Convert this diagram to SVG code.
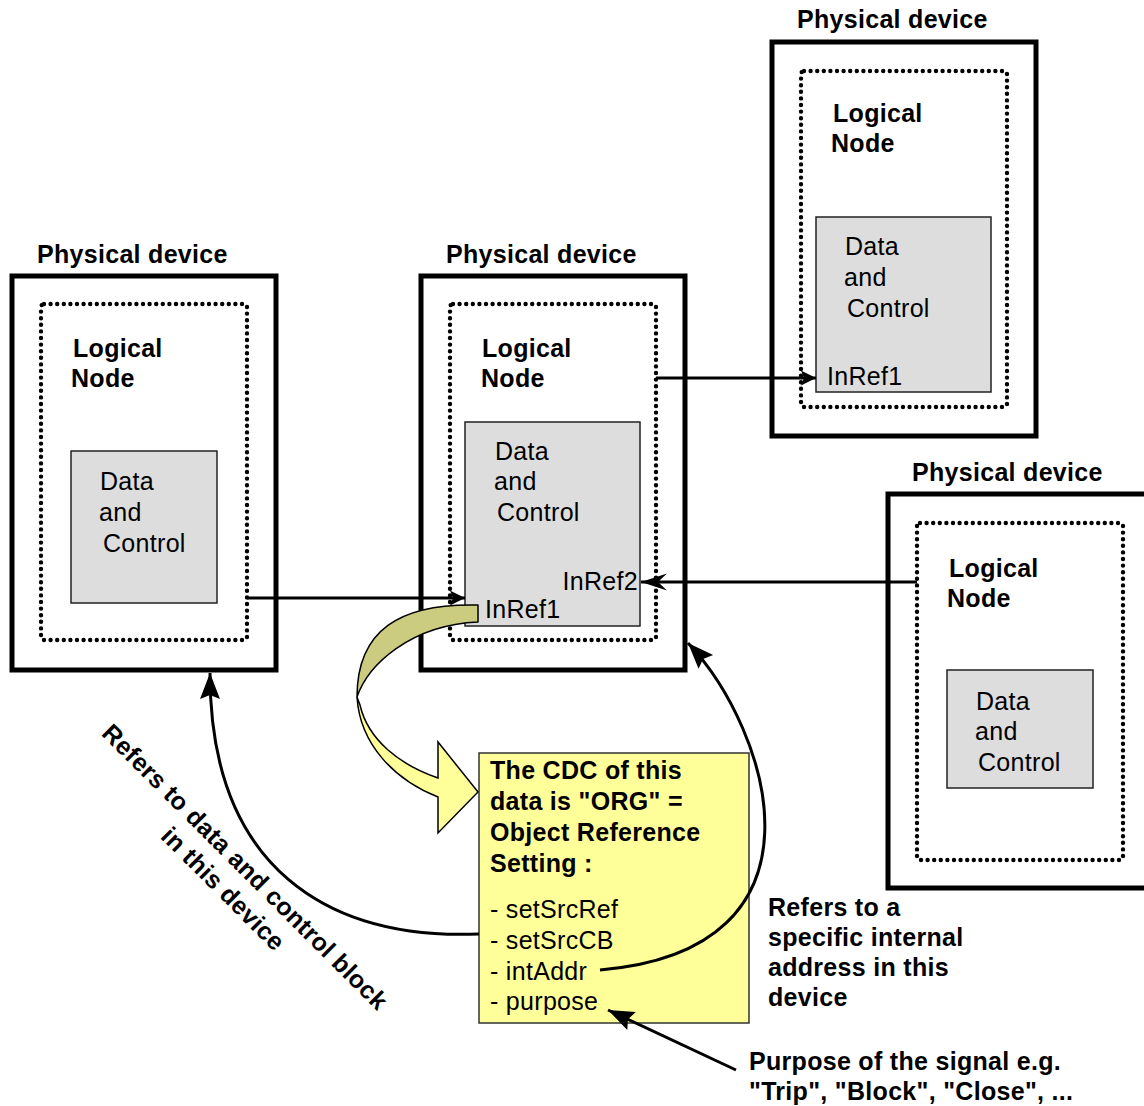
<svg xmlns="http://www.w3.org/2000/svg" width="1144" height="1106" viewBox="0 0 1144 1106">
<defs>
<style>
text{font-family:"Liberation Sans",Arial,sans-serif;font-size:25px;fill:#000;letter-spacing:0.3px}
.b{font-weight:bold}
.outer{fill:none;stroke:#000;stroke-width:5}
.ln{fill:none;stroke:#000;stroke-dasharray:0 6.6;stroke-linecap:round;stroke-width:4.4}
.dc{fill:#DDDDDD;stroke:#222;stroke-width:1.5}
.conn{fill:none;stroke:#000;stroke-width:3}
</style>
<marker id="tri" markerUnits="userSpaceOnUse" viewBox="-16 -9 17 18" refX="0" refY="0" markerWidth="17" markerHeight="18" orient="auto">
<path d="M0,0 L-15,-7.5 L-12,0 L-15,7.5 Z" fill="#000"/>
</marker>
<marker id="stealth" markerUnits="userSpaceOnUse" viewBox="-28 -10 29 20" refX="0" refY="0" markerWidth="29" markerHeight="20" orient="auto">
<path d="M0,0 L-26,-8.5 L-17,0 L-26,8.5 Z" fill="#000"/>
</marker>
<marker id="big" markerUnits="userSpaceOnUse" viewBox="-28 -11 29 22" refX="0" refY="0" markerWidth="29" markerHeight="22" orient="auto">
<path d="M0,0 L-26,-10 L-22,0 L-26,10 Z" fill="#000"/>
</marker>
</defs>
<rect width="1144" height="1106" fill="#fff"/>

<g id="device-left">
<text class="b" x="37" y="263">Physical device</text>
<rect class="outer" x="12" y="276" width="264" height="394"/>
<rect class="ln" x="41" y="304" width="206" height="336" rx="3"/>
<text class="b" x="73" y="357">Logical</text>
<text class="b" x="71" y="387">Node</text>
<rect class="dc" x="71" y="451" width="146" height="152"/>
<text x="100" y="490">Data</text>
<text x="99" y="521">and</text>
<text x="103" y="552">Control</text>
</g>

<g id="device-middle">
<text class="b" x="446" y="263">Physical device</text>
<rect class="outer" x="421" y="276" width="264" height="394"/>
<rect class="ln" x="450" y="304" width="206" height="336" rx="3"/>
<text class="b" x="482" y="357">Logical</text>
<text class="b" x="481" y="387">Node</text>
<rect class="dc" x="465" y="422" width="175" height="204"/>
<text x="495" y="460">Data</text>
<text x="494" y="490">and</text>
<text x="497" y="521">Control</text>
<text x="638" y="590" text-anchor="end">InRef2</text>
<text x="485" y="618">InRef1</text>
</g>

<g id="device-top-right">
<text class="b" x="797" y="28">Physical device</text>
<rect class="outer" x="772" y="42" width="264" height="394"/>
<rect class="ln" x="801" y="71" width="206" height="336" rx="3"/>
<text class="b" x="833" y="122">Logical</text>
<text class="b" x="831" y="152">Node</text>
<rect class="dc" x="816" y="217" width="175" height="175"/>
<text x="845" y="255">Data</text>
<text x="844" y="286">and</text>
<text x="847" y="317">Control</text>
<text x="827" y="385">InRef1</text>
</g>

<g id="device-right">
<text class="b" x="912" y="481">Physical device</text>
<rect class="outer" x="888" y="494" width="264" height="394"/>
<rect class="ln" x="917" y="523" width="206" height="337" rx="3"/>
<text class="b" x="949" y="577">Logical</text>
<text class="b" x="947" y="607">Node</text>
<rect class="dc" x="947" y="670" width="146" height="118"/>
<text x="976" y="710">Data</text>
<text x="975" y="740">and</text>
<text x="978" y="771">Control</text>
</g>

<g id="cdc-box">
<rect x="479" y="753" width="270" height="270" fill="#FFFF99" stroke="#333" stroke-width="1.5"/>
<text class="b" x="490" y="779">The CDC of this</text>
<text class="b" x="490" y="810">data is "ORG" =</text>
<text class="b" x="490" y="841">Object Reference</text>
<text class="b" x="490" y="872">Setting :</text>
<text x="490" y="918">- setSrcRef</text>
<text x="490" y="949">- setSrcCB</text>
<text x="490" y="980">- intAddr</text>
<text x="490" y="1010">- purpose</text>
</g>

<g id="yellow-arrow">
<path d="M478,605 C400,603 357,630 357,697 C368,665 410,625 478,622 Z" fill="#CCCC80" stroke="#000" stroke-width="1.5" stroke-linejoin="round"/>
<path d="M357,697 C360,745 395,780 438,797 L438,833 L478,792 L438,742 L438,778 C400,765 368,740 360,705 Z" fill="#FFFF99" stroke="#000" stroke-width="1.5" stroke-linejoin="miter"/>
</g>

<g id="connectors">
<line class="conn" x1="247" y1="598" x2="465" y2="598" marker-end="url(#tri)"/>
<line class="conn" x1="656" y1="378" x2="816" y2="378" marker-end="url(#tri)"/>
<line class="conn" x1="917" y1="582" x2="641" y2="582" marker-end="url(#stealth)"/>
<path class="conn" d="M479,934 C330,940 210,870 210,673" marker-end="url(#big)"/>
<path class="conn" d="M600,970 C840,950 770,730 688,643" marker-end="url(#big)"/>
<line class="conn" x1="736" y1="1070" x2="608" y2="1010" marker-end="url(#big)"/>
</g>

<g id="labels">
<text class="b" transform="translate(239,873) rotate(45)" text-anchor="middle"><tspan x="0" y="0">Refers to data and control block</tspan><tspan x="0" y="31">in this device</tspan></text>
<text class="b" x="768" y="916">Refers to a</text>
<text class="b" x="768" y="946">specific internal</text>
<text class="b" x="768" y="976">address in this</text>
<text class="b" x="768" y="1006">device</text>
<text class="b" x="749" y="1070">Purpose of the signal e.g.</text>
<text class="b" x="749" y="1100">"Trip", "Block", "Close", ...</text>
</g>
</svg>
